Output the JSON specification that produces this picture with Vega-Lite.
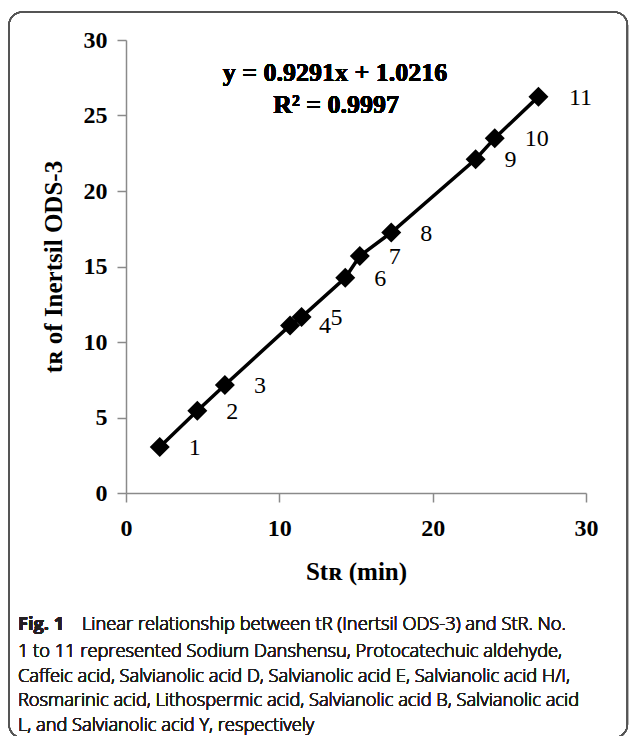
{
  "$schema": "https://vega.github.io/schema/vega-lite/v6.json",
  "width": 460,
  "height": 453,
  "autosize": "none",
  "padding": {"left": 126, "top": 40, "right": 43, "bottom": 243},
  "background": "white",
  "config": {
    "view": {"stroke": null},
    "axis": {
      "grid": false,
      "domainColor": "#8a8a8a",
      "domainWidth": 1.5,
      "tickColor": "#8a8a8a",
      "tickWidth": 1.5,
      "tickSize": 9,
      "labelFont": "Liberation Serif",
      "labelFontSize": 24,
      "labelFontWeight": "bold",
      "labelColor": "#000000",
      "labelFlush": false,
      "titleFont": "Liberation Serif",
      "titleFontSize": 25,
      "titleFontWeight": "bold",
      "titleColor": "#000000"
    }
  },
  "data": {
    "values": [
      {"n": "1", "str": 2.2, "tr": 3.05},
      {"n": "2", "str": 4.65, "tr": 5.45},
      {"n": "3", "str": 6.45, "tr": 7.15},
      {"n": "4", "str": 10.7, "tr": 11.1},
      {"n": "5", "str": 11.45, "tr": 11.65},
      {"n": "6", "str": 14.3, "tr": 14.25},
      {"n": "7", "str": 15.25, "tr": 15.7},
      {"n": "8", "str": 17.3, "tr": 17.25},
      {"n": "9", "str": 22.8, "tr": 22.1},
      {"n": "10", "str": 24.05, "tr": 23.5},
      {"n": "11", "str": 26.9, "tr": 26.25}
    ]
  },
  "layer": [
    {
      "mark": {"type": "rect", "fill": "transparent", "stroke": "#555555", "strokeWidth": 1.3, "cornerRadius": 13},
      "encoding": {
        "x": {"datum": -7.63, "type": "quantitative", "scale": {"domain": [0, 30], "nice": false}},
        "x2": {"datum": 32.7},
        "y": {"datum": 31.85, "type": "quantitative", "scale": {"domain": [0, 30], "nice": false}},
        "y2": {"datum": -16.2}
      }
    },
    {
      "mark": {"type": "line", "color": "#000000", "strokeWidth": 3.5},
      "encoding": {
        "x": {"field": "str", "type": "quantitative", "title": "Stʀ (min)", "scale": {"domain": [0, 30], "nice": false},
              "axis": {"values": [0, 10, 20, 30], "labelPadding": 14, "titlePadding": 19}},
        "y": {"field": "tr", "type": "quantitative", "title": "tʀ of Inertsil ODS-3", "scale": {"domain": [0, 30], "nice": false},
              "axis": {"values": [0, 5, 10, 15, 20, 25, 30], "labelPadding": 10, "titlePadding": 17}},
        "order": {"field": "str"}
      }
    },
    {
      "mark": {"type": "point", "shape": "diamond", "filled": true, "color": "#000000", "opacity": 1, "size": 400},
      "encoding": {
        "x": {"field": "str", "type": "quantitative"},
        "y": {"field": "tr", "type": "quantitative"}
      }
    },
    {
      "transform": [{"filter": {"field": "n", "oneOf": ["1", "2", "3", "4", "5", "6", "7", "8", "9"]}}],
      "mark": {"type": "text", "font": "Liberation Serif", "fontSize": 24, "color": "#000000", "align": "center", "baseline": "middle", "dx": 35, "dy": 1},
      "encoding": {
        "x": {"field": "str", "type": "quantitative"},
        "y": {"field": "tr", "type": "quantitative"},
        "text": {"field": "n"}
      }
    },
    {
      "transform": [{"filter": {"field": "n", "oneOf": ["10", "11"]}}],
      "mark": {"type": "text", "font": "Liberation Serif", "fontSize": 24, "color": "#000000", "align": "center", "baseline": "middle", "dx": 42, "dy": 1},
      "encoding": {
        "x": {"field": "str", "type": "quantitative"},
        "y": {"field": "tr", "type": "quantitative"},
        "text": {"field": "n"}
      }
    },
    {
      "mark": {"type": "text", "font": "Liberation Serif", "fontSize": 26, "fontWeight": "bold", "color": "#000000", "align": "center", "baseline": "middle"},
      "encoding": {
        "x": {"datum": 13.63, "type": "quantitative"},
        "y": {"datum": 27.8, "type": "quantitative"},
        "text": {"value": "y = 0.9291x + 1.0216"}
      }
    },
    {
      "mark": {"type": "text", "font": "Liberation Serif", "fontSize": 26, "fontWeight": "bold", "color": "#000000", "align": "center", "baseline": "middle"},
      "encoding": {
        "x": {"datum": 13.7, "type": "quantitative"},
        "y": {"datum": 25.7, "type": "quantitative"},
        "text": {"value": "R² = 0.9997"}
      }
    },
    {
      "mark": {"type": "text", "font": "Open Sans", "fontSize": 18.3, "fontWeight": "bold", "color": "#231f20", "align": "left", "baseline": "middle"},
      "encoding": {
        "x": {"datum": -7.05, "type": "quantitative"},
        "y": {"datum": -8.74, "type": "quantitative"},
        "text": {"value": "Fig. 1"}
      }
    },
    {
      "mark": {"type": "text", "font": "Open Sans", "fontSize": 18.3, "fontWeight": 300, "color": "#231f20", "align": "left", "baseline": "middle"},
      "encoding": {
        "x": {"datum": -2.87, "type": "quantitative"},
        "y": {"datum": -8.74, "type": "quantitative"},
        "text": {"value": "Linear relationship between tR (Inertsil ODS-3) and StR. No."}
      }
    },
    {
      "mark": {"type": "text", "font": "Open Sans", "fontSize": 18.3, "fontWeight": 300, "color": "#231f20", "align": "left", "baseline": "middle", "lineBreak": "\n", "lineHeight": 24.5},
      "encoding": {
        "x": {"datum": -7.05, "type": "quantitative"},
        "y": {"datum": -10.53, "type": "quantitative"},
        "text": {"value": "1 to 11 represented Sodium Danshensu, Protocatechuic aldehyde,\nCaffeic acid, Salvianolic acid D, Salvianolic acid E, Salvianolic acid H/I,\nRosmarinic acid, Lithospermic acid, Salvianolic acid B, Salvianolic acid\nL, and Salvianolic acid Y, respectively"}
      }
    }
  ]
}
